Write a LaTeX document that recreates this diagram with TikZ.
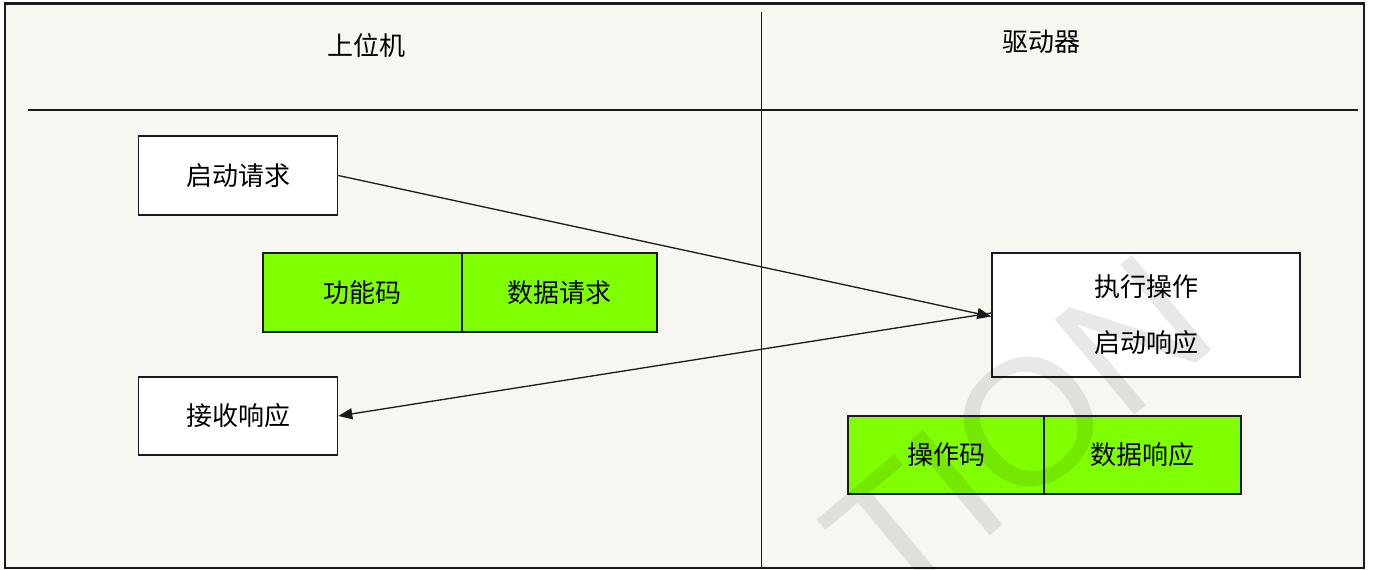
\documentclass[tikz,border=0pt]{standalone}
\usepackage{fontspec}
\newfontfamily\cjk{Noto Sans CJK SC}
\newfontfamily\wmfont{Liberation Sans}
\usetikzlibrary{arrows.meta}
\definecolor{bgcol}{HTML}{F8F6F0}
\definecolor{fieldgreen}{HTML}{80FF00}
\definecolor{linecol}{HTML}{1A1A1A}
\tikzset{
  box/.style={draw=linecol, line width=1.6pt, fill=white, font=\cjk\fontsize{26}{30}\selectfont, inner sep=0pt},
  field/.style={draw=linecol, line width=1.6pt, fill=fieldgreen, font=\cjk\fontsize{26}{30}\selectfont, inner sep=0pt},
  head/.style={font=\cjk\fontsize{26}{30}\selectfont, inner sep=0pt},
  msg/.style={draw=linecol, line width=1.3pt, -{Triangle[length=14pt,width=11pt]}},
  rule/.style={draw=linecol, line width=1.8pt},
}
\begin{document}
\begin{tikzpicture}[x=1pt,y=-1pt]
\useasboundingbox (0,0) rectangle (1373,570);
\fill[white] (0,0) rectangle (1373,570);
\draw[rule, fill=bgcol, line width=2.2pt] (5,3.5) rectangle (1364,568);
% lanes
\coordinate (hl) at (28,110);
\coordinate (hr) at (1358,110);
\coordinate (vt) at (761.5,12);
\coordinate (vb) at (761.5,568);
\draw[rule] (hl) -- (hr);
\draw[rule] (vt) -- (vb);
\node[head] (host) at (366,46) {上位机};
\node[head] (drv) at (1041,42) {驱动器};
% host side
\node[box, minimum width=199pt, minimum height=79pt] (req) at (238,175.5) {启动请求};
\node[field, minimum width=199pt, minimum height=79pt] (fc) at (362.5,292.5) {功能码};
\node[field, minimum width=195pt, minimum height=79pt] (dreq) at (559.5,292.5) {数据请求};
\node[box, minimum width=199pt, minimum height=78pt] (recv) at (238,416) {接收响应};
% driver side
\node[box, minimum width=308pt, minimum height=124pt, align=center, font=\cjk\fontsize{26}{56}\selectfont] (exec) at (1146,315) {执行操作\\启动响应};
\node[field, minimum width=196pt, minimum height=78pt] (op) at (946,455) {操作码};
\node[field, minimum width=197pt, minimum height=78pt] (dresp) at (1142.5,455) {数据响应};
% messages
\draw[msg] (req.east) -- ([yshift=-1.5pt]exec.west);
\draw[msg] ([yshift=2pt]exec.west) -- (recv.east);
% watermark
\node[font=\wmfont\fontsize{180}{180}\selectfont, text=black, text opacity=0.09, rotate=40, inner sep=0pt] (wm) at (1018,432) {TION};
\end{tikzpicture}
\end{document}
